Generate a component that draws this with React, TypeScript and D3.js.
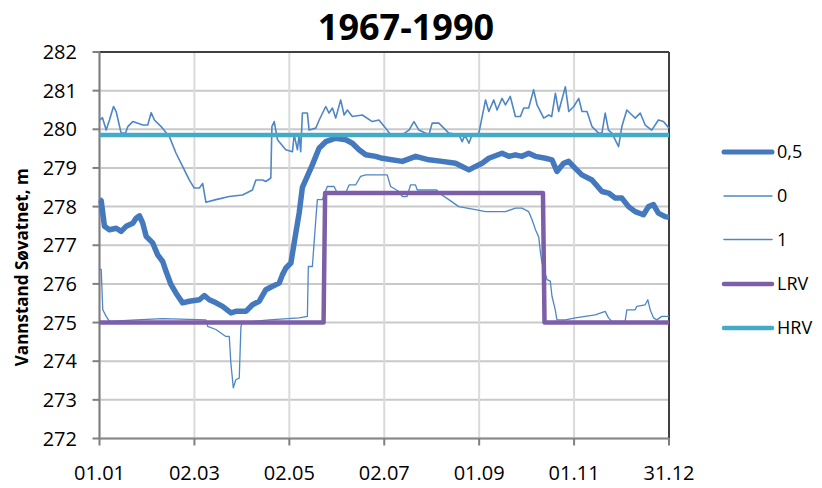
import React from "react";
import * as d3 from "d3";

// Water level at Søvatnet 1967-1990, daily percentiles and regulation limits
type Pt = [number, number]; // [day of year, level m]

const yTickValues = [272, 273, 274, 275, 276, 277, 278, 279, 280, 281, 282];
const xTickDays = [0, 61, 122, 183, 244, 305, 366];
const xTickLabels = ["01.01", "02.03", "02.05", "02.07", "01.09", "01.11", "31.12"];

const median: Pt[] = [
  [0, 278.18], [1.1, 278.15], [3.2, 277.49], [6.4, 277.4], [10.7, 277.44], [13.9, 277.36],
  [17.1, 277.49], [21.4, 277.57], [23.5, 277.7], [25.7, 277.76], [27.8, 277.57], [30, 277.23],
  [34.2, 277.06], [37.4, 276.75], [40.6, 276.58], [42.8, 276.32], [46, 275.98], [49.2, 275.76],
  [53.4, 275.51], [57.7, 275.55], [64.2, 275.59], [67.4, 275.7], [70.6, 275.59], [74.9, 275.51],
  [79.1, 275.42], [84.5, 275.25], [87.7, 275.29], [94.1, 275.29], [98.3, 275.46], [102.6, 275.55],
  [106.9, 275.85], [111.2, 275.94], [115.5, 276.02], [117.6, 276.24], [119.8, 276.41], [123, 276.54],
  [125.1, 277.06], [128.3, 277.83], [130.4, 278.5], [136.8, 279.08], [141.1, 279.51], [145.4, 279.68],
  [151.8, 279.77], [158.3, 279.73], [162.5, 279.64], [166.8, 279.47], [171.1, 279.34], [177.5, 279.3],
  [181.7, 279.25], [194.6, 279.17], [203.2, 279.3], [211.7, 279.21], [220.2, 279.17], [228.8, 279.12],
  [237.4, 278.95], [241.7, 279.04], [245.9, 279.12], [250.2, 279.25], [258.7, 279.38], [263, 279.3],
  [267.3, 279.34], [271.5, 279.3], [275.8, 279.38], [280.1, 279.3], [286.6, 279.25], [290.8, 279.21],
  [294, 278.91], [298.3, 279.12], [301.5, 279.17], [305.8, 278.99], [310, 278.82], [316.5, 278.69],
  [322.9, 278.39], [327.2, 278.35], [331.5, 278.22], [335.7, 278.22], [340, 278.0], [344.3, 277.87],
  [349.6, 277.79], [352.8, 278.0], [356, 278.05], [359.2, 277.83], [363.5, 277.74], [366, 277.72],
];

const minimum: Pt[] = [
  [0, 276.4], [1.1, 276.37], [2.1, 275.33], [4.3, 275.16], [6.4, 275.03], [23.5, 275.07], [40.6, 275.1],
  [57.7, 275.08], [68.4, 275.07], [69.5, 274.9], [74.8, 274.82], [81.2, 274.64], [83.4, 274.64],
  [84.4, 273.96], [86, 273.31], [87.6, 273.52], [89.8, 273.56], [90.9, 274.9], [91.9, 275.0],
  [109, 275.07], [128.3, 275.12], [133.6, 275.16], [134.2, 276.45], [136.8, 276.45], [139, 277.66],
  [140, 278.18], [143.2, 278.18], [146.4, 278.52], [150.8, 278.52], [152.8, 278.35], [158.2, 278.35],
  [160.4, 278.56], [164.6, 278.56], [167.8, 278.78], [171.1, 278.82], [184.9, 278.82], [187.1, 278.52],
  [192.5, 278.39], [194.6, 278.26], [197.6, 278.26], [199.9, 278.56], [203.1, 278.56], [204.2, 278.43],
  [216.8, 278.43], [218.1, 278.35], [224.5, 278.18], [230.9, 278.0], [241.6, 277.92], [248, 277.87],
  [260.9, 277.87], [267.3, 277.96], [271.5, 277.96], [275.8, 277.87], [278, 277.66], [280.2, 277.4],
  [282.3, 277.21], [283.4, 276.8], [284.4, 276.54], [287.6, 276.11], [289.7, 276.07], [290.8, 275.68],
  [292.9, 275.33], [294, 275.07], [299.4, 275.07], [305.8, 275.12], [312.1, 275.16], [318.6, 275.2],
  [325, 275.29], [327.1, 275.12], [329.3, 275.03], [337.8, 275.03], [338.9, 275.33], [344.3, 275.33],
  [345.3, 275.42], [350.7, 275.46], [352.4, 275.59], [353.9, 275.33], [356.1, 275.12], [358.2, 275.07],
  [361.4, 275.16], [366, 275.16],
];

const maximum: Pt[] = [
  [0, 280.24], [1.9, 280.3], [4.3, 279.98], [6.4, 280.24], [9, 280.59], [10.7, 280.46], [13.9, 279.9],
  [16.7, 279.9], [18.2, 280.07], [21.4, 280.2], [27.8, 280.11], [31, 280.11], [33.2, 280.43],
  [35.3, 280.24], [39.6, 280.07], [44.9, 279.81], [49.2, 279.38], [53.4, 279.04], [57.7, 278.69],
  [60.9, 278.48], [64.2, 278.48], [66.3, 278.6], [68.4, 278.11], [74.8, 278.18], [83.4, 278.26],
  [91.9, 278.3], [98.3, 278.43], [100.5, 278.69], [104.8, 278.69], [106.9, 278.65], [110.1, 278.74],
  [110.8, 280.07], [112.3, 280.2], [114.4, 279.73], [119.7, 279.47], [124, 279.42], [125.1, 279.86],
  [127.2, 279.47], [128.3, 279.86], [129.3, 279.42], [130.4, 280.42], [133.6, 280.42], [134.7, 279.98],
  [139, 280.03], [141.2, 280.24], [145.4, 280.59], [147.5, 280.42], [149.7, 280.55], [151.8, 280.29],
  [155, 280.76], [157.2, 280.37], [159.3, 280.5], [162.5, 280.33], [168.9, 280.37], [175.3, 280.2],
  [179.6, 280.24], [183.9, 280.03], [187.1, 279.86], [194.6, 279.86], [198.9, 279.98], [202.1, 280.2],
  [205.3, 279.98], [211.7, 279.86], [213.8, 280.16], [218.1, 280.16], [221.3, 280.03], [224.5, 279.9],
  [230.9, 279.86], [233.1, 279.68], [234.8, 279.85], [237.4, 279.64], [239.5, 279.86], [243.8, 279.9],
  [248.1, 280.76], [250.2, 280.46], [253.4, 280.76], [255.5, 280.5], [258.7, 280.8], [260.9, 280.63],
  [264, 280.85], [267.3, 280.33], [270.5, 280.33], [272.6, 280.55], [275.8, 280.55], [279, 281.02],
  [281.2, 280.63], [285.5, 280.29], [288.7, 280.37], [290.6, 280.33], [293, 280.93], [295.1, 280.46],
  [299.4, 281.1], [301.6, 280.46], [304.8, 280.59], [308, 280.8], [310.1, 280.46], [313.3, 280.46],
  [316.5, 280.07], [320.8, 279.9], [322.9, 279.9], [325, 280.42], [327.1, 279.98], [329.3, 279.9],
  [333.6, 279.55], [335.7, 280.07], [338.9, 280.5], [342.2, 280.37], [344.3, 280.29], [347.5, 280.42],
  [350.7, 280.11], [354.9, 279.98], [359.2, 280.24], [362.4, 280.2], [366, 280.03],
];

// Lowest regulated water level (LRV), summer and winter
const lrv: Pt[] = [[0, 275], [144, 275], [145, 278.35], [285, 278.35], [286, 275], [366, 275]];
// Highest regulated water level (HRV)
const hrv: Pt[] = [[0, 279.85], [366, 279.85]];

const seriesNames = ["0,5", "0", "1", "LRV", "HRV"];
const seriesData = [median, minimum, maximum, lrv, hrv];
const seriesColors = ["#4579bd", "#4f86c6", "#4f86c6", "#7d5fa8", "#45aac6"];
const seriesWidths = [5.5, 1.3, 1.6, 4.5, 4.5];

const W = 822;
const H = 488;
const plot = { left: 99.5, right: 669, top: 52, bottom: 438.5 };
const FONT = "'Open Sans', 'Liberation Sans', sans-serif";

export default function App() {
  const x = d3.scaleLinear().domain([0, 366]).range([plot.left, plot.right]);
  const y = d3.scaleLinear().domain([272, 282]).range([plot.bottom, plot.top]);
  const line = d3
    .line<Pt>()
    .x((d) => x(d[0]))
    .y((d) => y(d[1]));

  const legendY = [152, 196, 239.5, 284, 328];

  return (
    <svg
      width={W}
      height={H}
      style={{ position: "absolute", left: 0, top: 0, background: "#fff" }}
      fontFamily={FONT}
    >
      <rect x={0} y={0} width={W} height={H} fill="#fff" />

      {/* grid */}
      {yTickValues.map((v) => (
        <line key={"gy" + v} x1={plot.left} x2={plot.right} y1={y(v)} y2={y(v)} stroke="#c9c9c9" strokeWidth={2} />
      ))}
      {xTickDays.map((d) => (
        <line key={"gx" + d} x1={x(d)} x2={x(d)} y1={plot.top} y2={plot.bottom} stroke="#dadada" strokeWidth={2} />
      ))}

      {/* frame */}
      <line x1={plot.left} x2={plot.right} y1={plot.top} y2={plot.top} stroke="#404040" strokeWidth={2} />
      <line x1={plot.right} x2={plot.right} y1={plot.top} y2={plot.bottom} stroke="#404040" strokeWidth={2} />
      <line x1={plot.left} x2={plot.left} y1={plot.top} y2={plot.bottom} stroke="#7f7f7f" strokeWidth={2} />
      <line x1={plot.left} x2={plot.right} y1={plot.bottom} y2={plot.bottom} stroke="#8a8a8a" strokeWidth={2} />

      {/* axis ticks and labels */}
      {yTickValues.map((v) => (
        <g key={"ty" + v}>
          <line x1={plot.left - 7} x2={plot.left} y1={y(v)} y2={y(v)} stroke="#7f7f7f" strokeWidth={2} />
          <text x={77} y={y(v)} dy="0.35em" textAnchor="end" fontSize={20} fill="#000">
            {v}
          </text>
        </g>
      ))}
      {xTickDays.map((d, i) => (
        <g key={"tx" + d}>
          <line x1={x(d)} x2={x(d)} y1={plot.bottom} y2={plot.bottom + 7} stroke="#7f7f7f" strokeWidth={2} />
          <text x={x(d)} y={480} textAnchor="middle" fontSize={20} fill="#000">
            {xTickLabels[i]}
          </text>
        </g>
      ))}

      {/* series */}
      {seriesData.map((data, i) => (
        <path
          key={"s" + i}
          d={line(data) ?? ""}
          fill="none"
          stroke={seriesColors[i]}
          strokeWidth={seriesWidths[i]}
          strokeLinejoin="round"
        />
      ))}

      {/* title */}
      <text x={406} y={40} textAnchor="middle" fontSize={36} fontWeight="bold" fill="#000">
        1967-1990
      </text>

      {/* y axis title */}
      <text
        transform={`translate(28,${(plot.top + plot.bottom) / 2 + 22}) rotate(-90)`}
        textAnchor="middle"
        fontSize={17}
        fontWeight="bold"
        fill="#000"
      >
        Vannstand Søvatnet, m
      </text>

      {/* legend */}
      {seriesNames.map((name, i) => (
        <g key={"lg" + name}>
          <line
            x1={724}
            x2={772}
            y1={legendY[i]}
            y2={legendY[i]}
            stroke={seriesColors[i]}
            strokeWidth={Math.min(Math.max(seriesWidths[i], 1.3), 5)}
            strokeLinecap="round"
          />
          <text x={777} y={legendY[i]} dy="0.35em" fontSize={18} fill="#000">
            {name}
          </text>
        </g>
      ))}
    </svg>
  );
}
